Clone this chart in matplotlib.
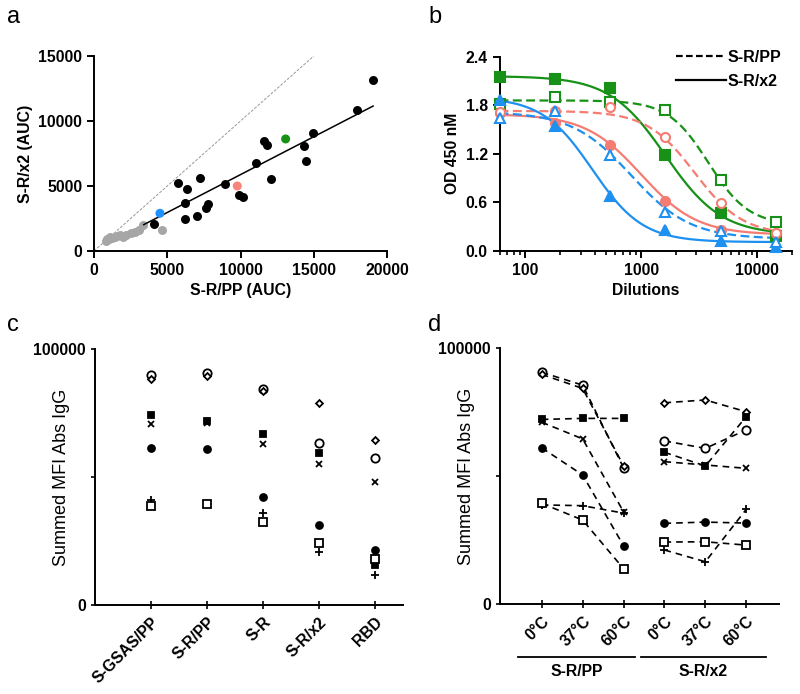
import numpy as np
import matplotlib.pyplot as plt
from matplotlib.lines import Line2D
from matplotlib.ticker import FixedLocator, FixedFormatter, NullFormatter

plt.rcParams['font.family'] = ['Liberation Sans', 'DejaVu Sans']
plt.rcParams['font.size'] = 11.3
plt.rcParams['font.weight'] = 'bold'
plt.rcParams['axes.labelweight'] = 'bold'
plt.rcParams['axes.linewidth'] = 1.4

# ---- panel a: AUC scatter ----
a_black_x = [19070, 17970, 14930, 14330, 14470, 11630, 11790, 11060, 12060, 8960, 9920,
             10170, 7210, 5710, 6350, 6210, 7800, 7670, 6210, 7030, 4100]
a_black_y = [13150, 10850, 9100, 8100, 6950, 8490, 8150, 6770, 5510, 5130, 4310,
             4130, 5620, 5260, 4790, 3720, 3620, 3280, 2460, 2670, 2050]
a_gray_x = [800, 900, 1000, 1100, 1250, 1400, 1600, 1800, 2000, 2200, 2500, 2800, 3100, 3370, 4620]
a_gray_y = [780, 900, 950, 1050, 1000, 1100, 1150, 1200, 1100, 1250, 1350, 1500, 1600, 2000, 1600]
a_color_x = [4500, 9780, 13080]
a_color_y = [2900, 5000, 8620]
a_colors = ['#1e90ff', '#f88379', '#179117']
a_fit_x = [3400, 19050]
a_fit_y = [2030, 11150]
a_ident = [0, 15000]

# ---- panel b: dilution curves ----
dilutions = [60, 180, 540, 1620, 4860, 14580]
od_green_x2 = [2.153, 2.125, 2.01, 1.186, 0.466, 0.185]
od_green_pp = [1.81, 1.90, 1.845, 1.74, 0.877, 0.362]
od_red_x2 = [1.70, 1.577, 1.31, 0.62, 0.26, 0.22]
od_red_pp = [1.72, 1.73, 1.775, 1.41, 0.597, 0.226]
od_blue_x2 = [1.865, 1.544, 0.68, 0.26, 0.127, 0.053]
od_blue_pp = [1.64, 1.73, 1.186, 0.486, 0.25, 0.107]
# 4PL fit parameters: top, bottom, ec50, hill
fit_green_x2 = [2.16, 0.20, 1620, 1.8]
fit_green_pp = [1.86, 0.32, 3800, 2.5]
fit_red_x2 = [1.69, 0.20, 1000, 1.8]
fit_red_pp = [1.73, 0.20, 2900, 2.1]
fit_blue_x2 = [1.90, 0.11, 380, 2.0]
fit_blue_pp = [1.72, 0.15, 820, 1.7]

# ---- panel c / d: summed MFI ----
c_cats = ['S-GSAS/PP', 'S-R/PP', 'S-R', 'S-R/x2', 'RBD']
c_open_circle = [89800, 90500, 84200, 63400, 57500]
c_diamond = [88300, 89600, 83700, 78800, 64500]
c_filled_square = [74200, 72000, 66700, 59400, 15600]
c_cross = [70600, 71000, 62900, 55100, 48200]
c_filled_circle = [61200, 60800, 42300, 31250, 21500]
c_plus = [41000, 39500, 35800, 20600, 11700]
c_open_square = [38800, 39300, 32400, 24100, 17800]

d_labels = ['0°C', '37°C', '60°C', '0°C', '37°C', '60°C']
d_groups = ['S-R/PP', 'S-R/x2']
d_open_circle = [90500, 85500, 53200, 63700, 60800, 68000]
d_diamond = [89700, 84200, 54000, 78600, 79700, 75100]
d_filled_square = [72100, 72500, 72500, 59250, 53900, 73200]
d_cross = [71000, 64500, 36000, 55600, 54300, 53000]
d_filled_circle = [61000, 50400, 22800, 31500, 32000, 31600]
d_plus = [38700, 38400, 35500, 21100, 16500, 37000]
d_open_square = [39300, 32800, 13800, 24200, 24300, 23000]

fig = plt.figure(figsize=(8, 6.94), dpi=100)


def pos(l, t, r, b):
    return [l / 800, 1 - b / 694, (r - l) / 800, (b - t) / 694]


def clean(ax):
    ax.spines['top'].set_visible(False)
    ax.spines['right'].set_visible(False)


# panel a
ax = fig.add_axes(pos(94, 56, 387, 251))
clean(ax)
ax.plot(a_ident, a_ident, color='#999999', lw=0.7, ls=(0, (3, 1.5)), zorder=1)
ax.scatter(a_gray_x, a_gray_y, s=42, color='#a6a6a6', zorder=2, linewidths=0)
ax.plot(a_fit_x, a_fit_y, color='black', lw=1.1, zorder=3)
ax.scatter(a_black_x, a_black_y, s=42, color='black', zorder=4, linewidths=0)
ax.scatter(a_color_x, a_color_y, s=42, c=a_colors, zorder=5, linewidths=0)
ax.set_xlim(0, 20000)
ax.set_ylim(0, 15000)
ax.set_xticks([0, 5000, 10000, 15000, 20000])
ax.set_yticks([0, 5000, 10000, 15000])
ax.tick_params(length=5, width=1.4)
ax.set_xlabel('S-R/PP (AUC)', labelpad=4)
ax.set_ylabel('S-R/x2 (AUC)', labelpad=4)

# panel b
ax = fig.add_axes(pos(499.5, 56.7, 792, 251))
clean(ax)
xs = np.geomspace(dilutions[0], dilutions[-1], 200)
series = [
    (od_green_x2, fit_green_x2, '#179117', 's', True),
    (od_green_pp, fit_green_pp, '#179117', 's', False),
    (od_red_x2, fit_red_x2, '#f47c72', 'o', True),
    (od_red_pp, fit_red_pp, '#f47c72', 'o', False),
    (od_blue_x2, fit_blue_x2, '#1e90f0', '^', True),
    (od_blue_pp, fit_blue_pp, '#1e90f0', '^', False),
]
for vals, p, col, mk, filled in series:
    top, bot, ec50, hill = p
    curve = bot + (top - bot) / (1 + (xs / ec50) ** hill)
    ax.plot(xs, curve, color=col, lw=1.6, ls='-' if filled else (0, (4, 2)), zorder=2)
    ax.plot(dilutions, vals, ls='none', marker=mk, ms=7 if mk != 'o' else 6.5,
            mfc=col if filled else 'white', mec=col, mew=1.5, zorder=3, clip_on=False)
ax.set_xscale('log')
ax.set_xlim(60, 20000)
ax.set_ylim(0, 2.4)
ax.xaxis.set_major_locator(FixedLocator([100, 1000, 10000]))
ax.xaxis.set_major_formatter(FixedFormatter(['100', '1000', '10000']))
ax.xaxis.set_minor_formatter(NullFormatter())
ax.set_yticks([0, 0.6, 1.2, 1.8, 2.4])
ax.set_yticklabels(['0.0', '0.6', '1.2', '1.8', '2.4'])
ax.tick_params(which='major', length=5, width=1.4)
ax.tick_params(which='minor', length=3, width=1.2)
ax.set_xlabel('Dilutions', labelpad=4)
ax.set_ylabel('OD 450 nM', labelpad=4)
handles = [Line2D([], [], color='black', lw=1.6, ls=(0, (3, 1.5))),
           Line2D([], [], color='black', lw=1.6)]
fig.legend(handles, ['S-R/PP', 'S-R/x2'], loc='upper left',
           bbox_to_anchor=(668 / 800, 1 - 42 / 694), frameon=False,
           handlelength=3.1, handletextpad=0.15, labelspacing=0.55,
           borderpad=0, fontsize=11.5)

# marker styles shared by c and d: (marker, face, size)
mk_styles = [('o', 'white', 6), ('D', 'white', 3.5), ('s', 'black', 5), ('x', 'black', 4.5),
             ('o', 'black', 5), ('+', 'black', 6), ('s', 'white', 6)]

# panel c
ax = fig.add_axes(pos(95, 349, 403, 605))
clean(ax)
c_series = [c_open_circle, c_diamond, c_filled_square, c_cross,
            c_filled_circle, c_plus, c_open_square]
cx = np.arange(len(c_cats))
for vals, (mk, fc, ms) in zip(c_series, mk_styles):
    ax.plot(cx, vals, ls='none', marker=mk, ms=ms, mfc=fc, mec='black', mew=1.3, color='black')
ax.set_xlim(-1, 4.5)
ax.set_ylim(0, 100000)
ax.set_yticks([0, 50000, 100000])
ax.set_yticklabels(['0', '', '100000'])
ax.set_xticks(cx)
ax.set_xticklabels(c_cats, rotation=45, ha='right', rotation_mode='anchor')
ax.tick_params(axis='y', length=3, width=1.2)
ax.tick_params(axis='x', direction='inout', length=6, width=1.2, pad=4)
ax.set_ylabel('Summed MFI Abs IgG', fontsize=13, fontweight='normal')
ax.yaxis.set_label_coords(-0.081, 0.5)

# panel d
ax = fig.add_axes(pos(500, 348, 779, 604))
clean(ax)
d_series = [d_open_circle, d_diamond, d_filled_square, d_cross,
            d_filled_circle, d_plus, d_open_square]
dx = np.arange(len(d_labels))
for vals, (mk, fc, ms) in zip(d_series, mk_styles):
    for g in range(2):
        sl = slice(3 * g, 3 * g + 3)
        ax.plot(dx[sl], vals[sl], color='black', lw=1.2, ls=(0, (4, 3)),
                marker=mk, ms=ms, mfc=fc, mec='black', mew=1.3)
ax.set_xlim(-1.02, 5.8)
ax.set_ylim(0, 100000)
ax.set_yticks([0, 50000, 100000])
ax.set_yticklabels(['0', '', '100000'])
ax.set_xticks(dx)
ax.set_xticklabels(d_labels, rotation=45, ha='right', rotation_mode='anchor')
ax.tick_params(axis='y', length=3, width=1.2)
ax.tick_params(axis='x', direction='inout', length=6, width=1.2, pad=4)
ax.set_ylabel('Summed MFI Abs IgG', fontsize=13, fontweight='normal')
ax.yaxis.set_label_coords(-0.09, 0.5)
tr = ax.get_xaxis_transform()
for g, name in enumerate(d_groups):
    x0, x1 = 3 * g - 0.58, 3 * g + 2.29 + (0.18 if g else 0)
    ax.plot([x0, x1], [-0.206, -0.206], color='black', lw=1.3, transform=tr, clip_on=False)
    ax.text((x0 + x1) / 2, -0.264, name, transform=tr, ha='center', va='center')

# panel letters
for lbl, x, y in [('a', 7, 17), ('b', 428, 17), ('c', 7, 325), ('d', 428, 325)]:
    fig.text(x / 800, 1 - y / 694, lbl, fontsize=17, fontweight='normal', va='center')

fig.savefig('out.png', dpi=100)
